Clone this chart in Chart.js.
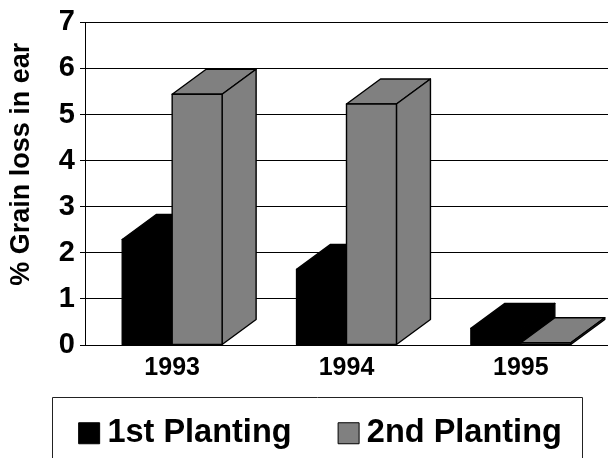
<!DOCTYPE html>
<html><head><meta charset="utf-8">
<style>html,body{margin:0;padding:0;background:#fff}canvas{display:block}</style>
<script src="https://cdn.jsdelivr.net/npm/chart.js@4/dist/chart.umd.js"></script>
</head><body><canvas id="c" width="608" height="458"></canvas>
<script>
const categories = ['1993','1994','1995'];
const firstPlanting = [2.29,1.64,0.36];
const secondPlanting = [5.44,5.23,0.05];
const seriesNames = ['1st Planting','2nd Planting'];
const yTicks = [0,1,2,3,4,5,6,7];
const FONT = '"Liberation Sans", Arial, sans-serif';
const DX = 34, DY = 25;
const bars3d = {
  id:'bars3d',
  beforeDatasetDraw(){ return false; },
  afterDatasetsDraw(chart){
    const ctx = chart.ctx;
    chart.data.datasets.forEach((ds,i)=>{
      const meta = chart.getDatasetMeta(i);
      meta.data.forEach(el=>{
        const p = el.getProps(['x','y','base','width'],true);
        const l = p.x-p.width/2, r = p.x+p.width/2, t = p.y, b = p.base;
        ctx.save();
        ctx.fillStyle = ds.backgroundColor; ctx.strokeStyle = '#000'; ctx.lineWidth = 1.4; ctx.lineJoin='round';
        const poly = pts=>{ctx.beginPath();pts.forEach((q,k)=>k?ctx.lineTo(q[0],q[1]):ctx.moveTo(q[0],q[1]));ctx.closePath();ctx.fill();ctx.stroke();};
        poly([[l,t],[l+DX,t-DY],[r+DX,t-DY],[r,t]]);
        poly([[r,t],[r+DX,t-DY],[r+DX,b-DY],[r,b]]);
        poly([[l,t],[r,t],[r,b],[l,b]]);
        ctx.restore();
      });
    });
  }
};
const legendFrame = {
  id:'legendFrame',
  afterLayout(chart){
    const lg = chart.legend;
    lg.left = 0; lg.right = 649; lg.top = 362;
    const y = chart.scales.y;
    if(!y._titleShifted){
      const orig = y.drawTitle;
      y.drawTitle = function(){
        const t=this.top,b=this.bottom;
        this.top-=19.5; this.bottom-=19.5;
        orig.call(this);
        this.top=t; this.bottom=b;
      };
      y._titleShifted = true;
    }
  },
  beforeDraw(chart){
    const ctx = chart.ctx;
    ctx.save(); ctx.strokeStyle='#222'; ctx.lineWidth=1;
    ctx.beginPath(); ctx.moveTo(52.5,458); ctx.lineTo(52.5,397.5); ctx.lineTo(582.5,397.5); ctx.lineTo(582.5,458); ctx.stroke();
    ctx.restore();
  }
};
new Chart(document.getElementById('c'),{
  type:'bar',
  data:{labels:categories,datasets:[
    {label:seriesNames[0],data:firstPlanting,backgroundColor:'#000000',borderColor:'#000',borderWidth:1},
    {label:seriesNames[1],data:secondPlanting,backgroundColor:'#808080',borderColor:'#000',borderWidth:1}
  ]},
  options:{
    responsive:false,animation:false,
    devicePixelRatio:1,
    layout:{padding:{top:19,left:0,right:0,bottom:-24.5}},
    datasets:{bar:{categoryPercentage:0.573,barPercentage:1}},
    plugins:{
      tooltip:{enabled:false},
      title:{display:false},
      legend:{position:'bottom',labels:{color:'#000',font:{family:FONT,size:32.5,weight:'bold'},boxWidth:4,boxHeight:21,usePointStyle:true,pointStyle:'rect',padding:55}}
    },
    scales:{
      x:{
        afterFit(s){s.height=40;},
        grid:{display:false,drawTicks:false},
        border:{display:true,color:'#000',width:1},
        ticks:{color:'#000',font:{family:FONT,size:25,weight:'bold'},padding:8,maxRotation:0}
      },
      y:{
        min:0,max:7,
        afterFit(s){s.width=85;},
        afterBuildTicks(s){s.ticks=yTicks.map(v=>({value:v}));},
        grid:{color:'#000',lineWidth:1,tickLength:5,drawTicks:true},
        border:{display:true,color:'#000',width:1},
        ticks:{color:'#000',font:{family:FONT,size:29,weight:'bold'},padding:5},
        title:{display:true,text:'% Grain loss in ear',color:'#000',font:{family:FONT,size:27,weight:'bold'},padding:{top:5,bottom:0}}
      }
    }
  },
  plugins:[bars3d,legendFrame]
});
</script></body></html>
